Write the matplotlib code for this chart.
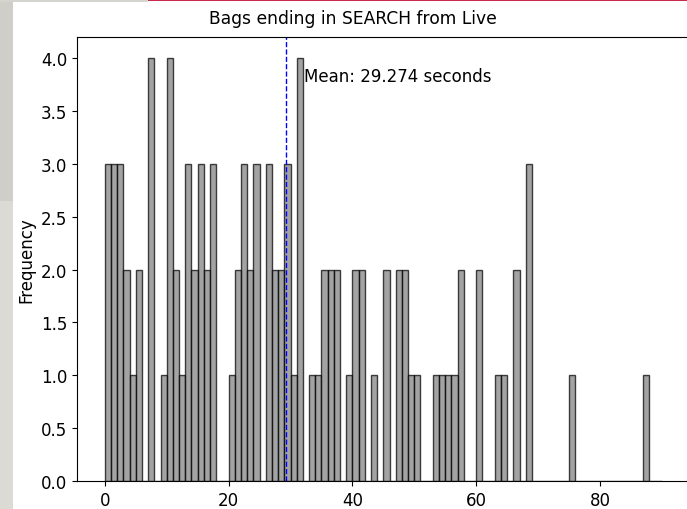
import numpy as np
import matplotlib
matplotlib.use("Agg")
import matplotlib.pyplot as plt
from matplotlib.patches import Rectangle

# Histogram of durations (seconds), one-second bins from 0 to 90
bin_edges = np.arange(0, 91)
bin_counts = [
    3, 3, 3, 2, 1, 2, 0, 4, 0, 1,   # 0-9
    4, 2, 1, 3, 2, 3, 2, 3, 0, 0,   # 10-19
    1, 2, 3, 2, 3, 0, 3, 2, 2, 3,   # 20-29
    1, 4, 0, 1, 1, 2, 2, 2, 0, 1,   # 30-39
    2, 2, 0, 1, 0, 2, 0, 2, 2, 1,   # 40-49
    1, 0, 0, 1, 1, 1, 1, 2, 0, 0,   # 50-59
    2, 0, 0, 1, 1, 0, 2, 0, 3, 0,   # 60-69
    0, 0, 0, 0, 0, 1, 0, 0, 0, 0,   # 70-79
    0, 0, 0, 0, 0, 0, 0, 1, 0, 0,   # 80-89
]
mean_seconds = 29.274
title = "Bags ending in SEARCH from Live"

plt.rcParams["font.size"] = 12

W, H = 687, 510
fig = plt.figure(figsize=(W / 100, H / 100), dpi=100)

# window chrome around the figure
fig.patches.append(Rectangle((0, 0), 13 / W, 1, transform=fig.transFigure,
                             facecolor="#dcdad4", edgecolor="none", zorder=-5))
fig.patches.append(Rectangle((0, (H - 202) / H), 13 / W, 202 / H, transform=fig.transFigure,
                             facecolor="#d0cec9", edgecolor="none", zorder=-4))
fig.patches.append(Rectangle((0, (H - 3) / H), 148 / W, 3 / H, transform=fig.transFigure,
                             facecolor="#d6d4cf", edgecolor="none", zorder=-4))
fig.patches.append(Rectangle((148 / W, (H - 2) / H), 1 - 148 / W, 2 / H, transform=fig.transFigure,
                             facecolor="#c9294d", edgecolor="none", zorder=-4))

ax = fig.add_axes([77 / W, 28 / H, 612.7 / W, 444 / H])
bin_left = bin_edges[:-1]
ax.hist(bin_left, bins=bin_edges, weights=bin_counts,
        color="gray", edgecolor="black", alpha=0.72)
ax.spines["right"].set_visible(False)

ax.axvline(mean_seconds, color="blue", linestyle="--", linewidth=1)
ax.text(mean_seconds * 1.1, ax.get_ylim()[1] * 0.9,
        f"Mean: {mean_seconds:.3f} seconds", fontsize=12)

ax.set_ylabel("Frequency", fontsize=12)
ax.tick_params(labelsize=12)
fig.text(352.5 / W, 1 - 19 / H, title, ha="center", va="center", fontsize=12.3)

fig.savefig("out.png", dpi=100)
